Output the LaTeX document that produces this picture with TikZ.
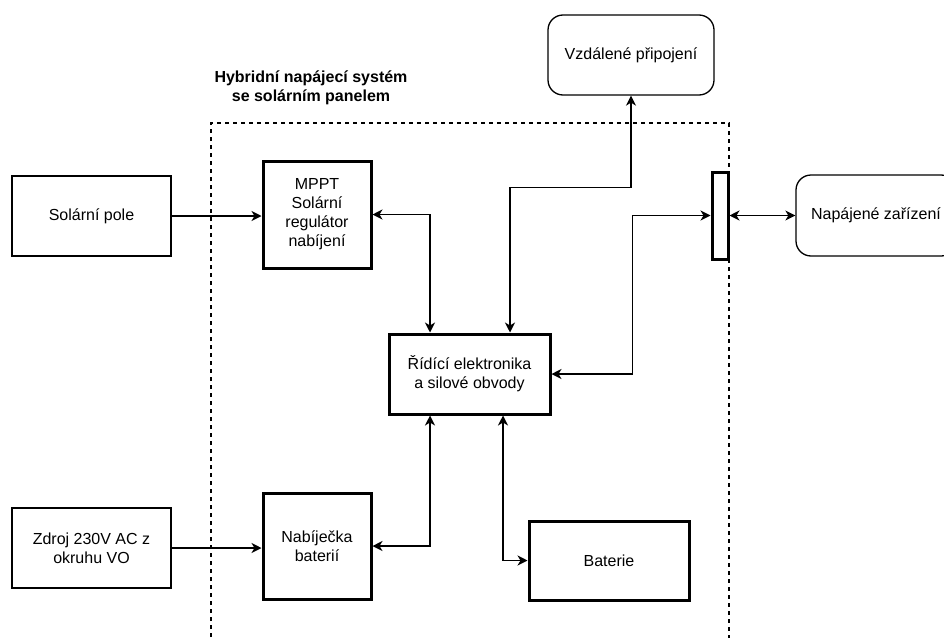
\documentclass[tikz,border=0pt]{standalone}
\usepackage{fontspec}
\setmainfont{Liberation Sans}
\usepackage{tikz}
\usetikzlibrary{arrows.meta}
\usetikzlibrary{positioning}

\tikzset{
	box/.style={draw, line width=1.3pt, align=center, inner sep=2pt},
	thickbox/.style={box, line width=3pt},
	roundbox/.style={box, rounded corners=15pt},
	link/.style={line width=1.3pt, -{Stealth[length=10pt,width=10pt,inset=3pt]}},
	twolink/.style={line width=1.3pt, {Stealth[length=10pt,width=10pt,inset=3pt]}-{Stealth[length=10pt,width=10pt,inset=3pt]}}
}

\begin{document}
\begin{tikzpicture}[x=1pt,y=-1pt,font=\fontsize{16}{19}\selectfont]
\useasboundingbox (0,0) rectangle (944,637);
\clip (0,0) rectangle (944,637);

% frame of the system
\draw [line width=1.3pt, dash pattern=on 4pt off 4pt] (211,645) -- (211,123) -- (729,123) -- (729,645);
\node [font=\fontsize{16}{19}\selectfont\bfseries, align=center] (title) at (311,88) {Hybridní napájecí systém\\se solárním panelem};

% blocks
\node [box, minimum width=159pt, minimum height=80pt] (solar) at (91.5,216) {Solární pole};
\node [box, minimum width=159pt, minimum height=80pt] (mains) at (91.5,548) {Zdroj 230V AC z\\okruhu VO};
\node [thickbox, minimum width=108pt, minimum height=107pt] (mppt) at (317,214.5) {MPPT\\Solární\\regulátor\\nabíjení};
\node [thickbox, minimum width=108pt, minimum height=106pt] (charger) at (317,546) {Nabíječka\\baterií};
\node [thickbox, minimum width=161pt, minimum height=80pt] (ctrl) at (469.5,374) {Řídící elektronika\\a silové obvody};
\node [thickbox, minimum width=160pt, minimum height=79pt] (battery) at (609,560.5) {Baterie};
\node [roundbox, minimum width=166pt, minimum height=80pt] (remote) at (631,55) {Vzdálené připojení};
\node [thickbox, minimum width=16pt, minimum height=87pt, inner sep=0pt] (bar) at (720,215.5) {};
\node [roundbox, minimum width=160pt, minimum height=81pt] (load) at (876,215.5) {Napájené zařízení};

% links
\draw [link] (solar.east) -- (solar.east -| mppt.west);
\draw [link] (mains.east) -- (mains.east -| charger.west);
\draw [twolink] (mppt.east) -| ([xshift=-39.5pt]ctrl.north);
\draw [twolink] ([xshift=40.5pt]ctrl.north) -- ++(0,-145) -| (remote.south);
\draw [twolink] (ctrl.east) -- ++(81,0) |- (bar.west);
\draw [twolink] (bar.east) -- (load.west);
\draw [twolink] (charger.east) -| ([xshift=-39.5pt]ctrl.south);
\draw [twolink] ([xshift=33.5pt]ctrl.south) |- (battery.west);
\end{tikzpicture}
\end{document}
